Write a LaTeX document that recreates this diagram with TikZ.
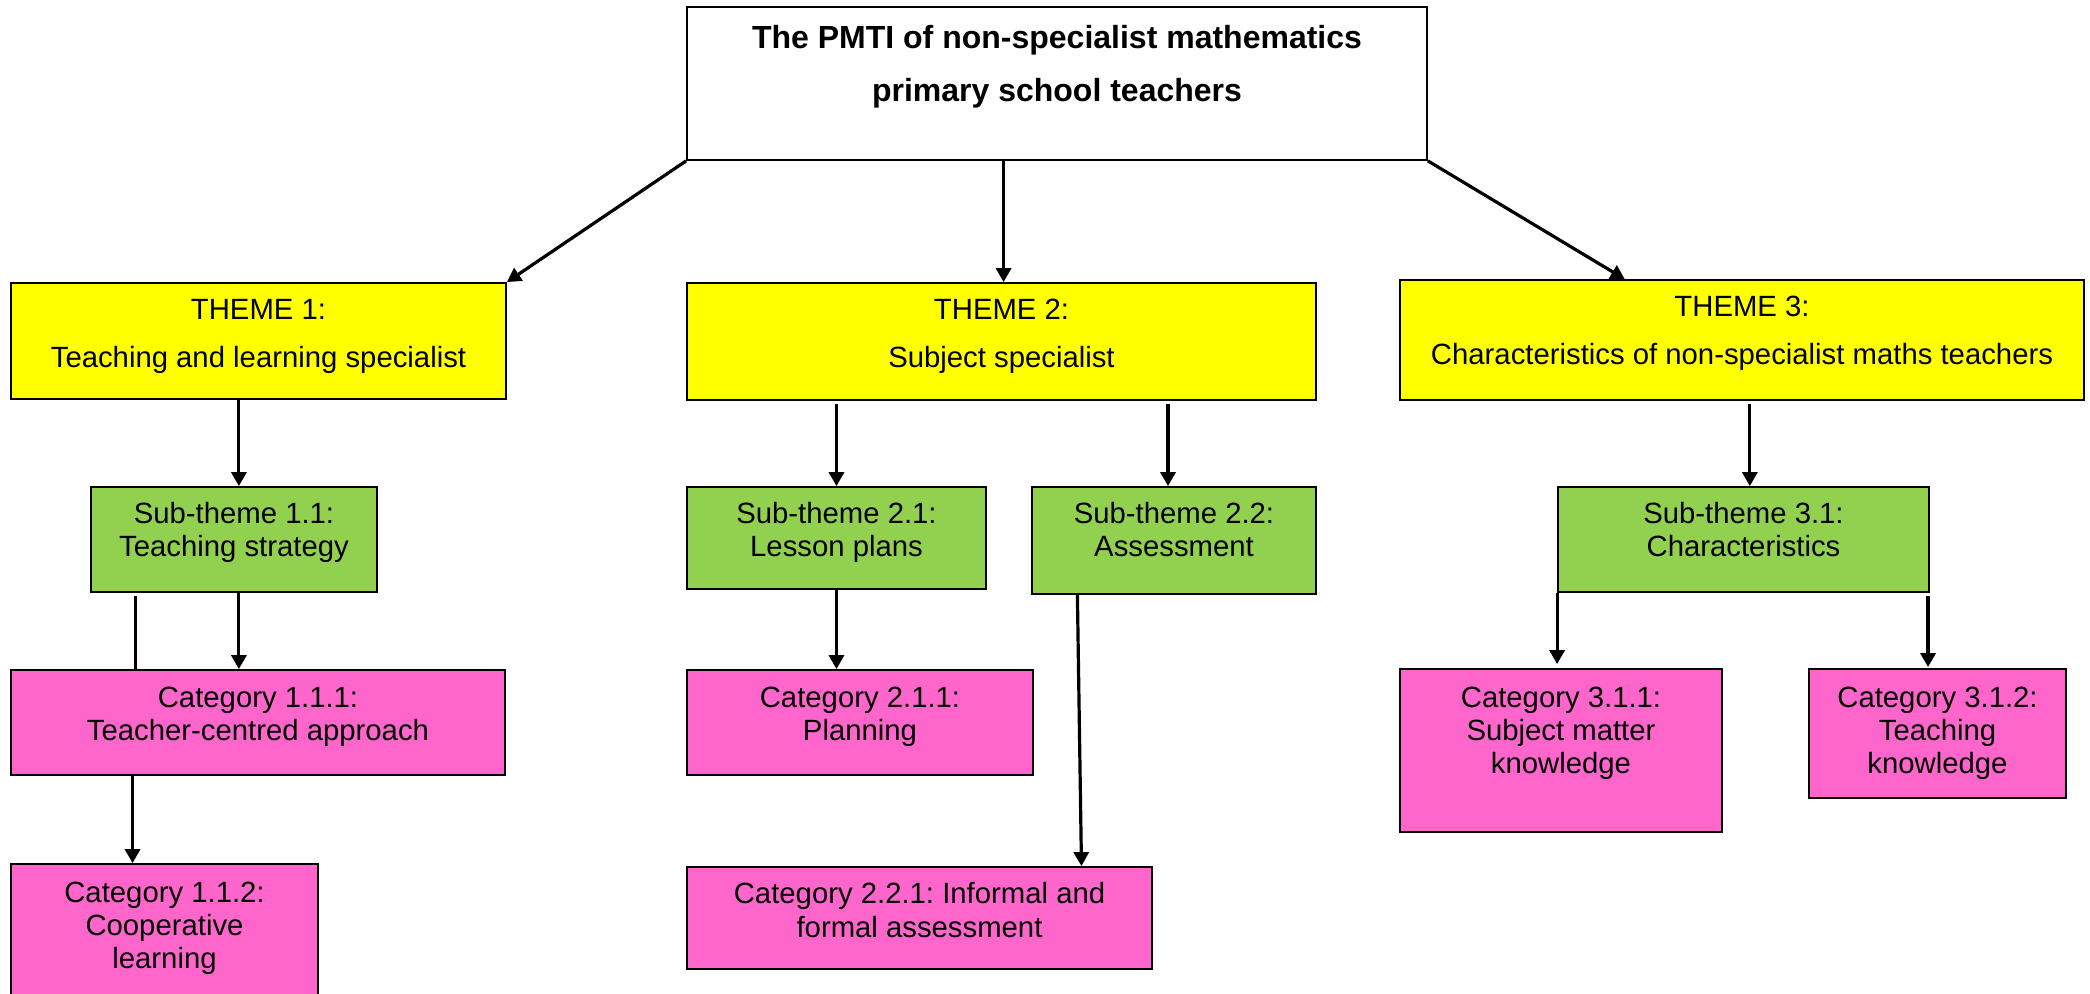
\documentclass[tikz,border=0pt]{standalone}
\usepackage{fontspec}
\setmainfont{Liberation Sans}
\usetikzlibrary{arrows.meta,calc,fit}
\definecolor{themeyellow}{HTML}{FFFF00}
\definecolor{subgreen}{HTML}{92D050}
\definecolor{catpink}{HTML}{FF66CC}
\frenchspacing

% #1 name, #2 box style, #3/#4 top-left corner, #5/#6 bottom-right corner,
% #7 label style, #8 distance of the label centre below the top edge, #9 text
\newcommand\diagbox[9]{%
  \path (#3,#4) coordinate (#1-nw) (#5,#6) coordinate (#1-se);
  \node[#2, fit=(#1-nw)(#1-se)] (#1) {};
  \node[#7] (#1-text) at ([yshift={-(#8)*0.5pt}]#1.north) {#9};%
}

\begin{document}
\begin{tikzpicture}[x=0.5pt,y=-0.5pt,
  frame/.style={draw=black, line width=0.9pt, inner sep=0pt},
  titlebox/.style={frame, fill=white},
  themebox/.style={frame, fill=themeyellow},
  subbox/.style={frame, fill=subgreen},
  catbox/.style={frame, fill=catpink},
  titletext/.style={align=center, inner sep=0pt,
    font=\fontsize{16pt}{26.5pt}\selectfont\bfseries},
  themetext/.style={align=center, inner sep=0pt,
    font=\fontsize{14.65pt}{24pt}\selectfont},
  boxtext/.style={align=center, inner sep=0pt,
    font=\fontsize{14.65pt}{16.6pt}\selectfont},
  arr/.style={line width=1.6pt, -{Triangle[length=7pt,width=7.5pt]}},
  plain/.style={line width=1.6pt},
]
\useasboundingbox (0,0) rectangle (2090,993);

% top
\diagbox{title}{titlebox}{687}{7}{1427}{160}{titletext}{60.5}
  {The PMTI of non-specialist mathematics\\primary school teachers}

% themes
\diagbox{t1}{themebox}{11}{283}{506}{399}{themetext}{54.5}
  {THEME 1:\\Teaching and learning specialist}
\diagbox{t2}{themebox}{687}{283}{1316}{400}{themetext}{54.5}
  {THEME 2:\\Subject specialist}
\diagbox{t3}{themebox}{1400}{280}{2084}{400}{themetext}{54.5}
  {THEME 3:\\Characteristics of non-specialist maths teachers}

% sub-themes
\diagbox{s11}{subbox}{91}{487}{377}{592}{boxtext}{46.5}
  {Sub-theme 1.1:\\Teaching strategy}
\diagbox{s21}{subbox}{687}{487}{986}{589}{boxtext}{46.5}
  {Sub-theme 2.1:\\Lesson plans}
\diagbox{s22}{subbox}{1032}{487}{1316}{594}{boxtext}{43.5}
  {Sub-theme 2.2:\\Assessment}
\diagbox{s31}{subbox}{1558}{487}{1929}{592}{boxtext}{43.5}
  {Sub-theme 3.1:\\Characteristics}

% categories
\diagbox{c111}{catbox}{11}{670}{505}{775}{boxtext}{47.5}
  {Category 1.1.1:\\Teacher-centred approach}
\diagbox{c112}{catbox}{11}{864}{318}{1000}{boxtext}{65}
  {Category 1.1.2:\\Cooperative\\learning}
\diagbox{c211}{catbox}{687}{670}{1033}{775}{boxtext}{47.5}
  {Category 2.1.1:\\Planning}
\diagbox{c221}{catbox}{687}{867}{1152}{969}{boxtext}{44}
  {Category 2.2.1: Informal and\\formal assessment}
\diagbox{c311}{catbox}{1400}{669}{1722}{832}{boxtext}{65}
  {Category 3.1.1:\\Subject matter\\knowledge}
\diagbox{c312}{catbox}{1809}{669}{2066}{798}{boxtext}{65}
  {Category 3.1.2:\\Teaching\\knowledge}

% title to themes
\draw[arr] (title.south west) -- (t1.north east);
\draw[arr] ($(title.south west)!0.428!(title.south east)$) coordinate (a2)
  -- (a2 |- t2.north);
\draw[arr] (title.south east) -- ($(t3.north west)!0.329!(t3.north east)$);

% themes to sub-themes
\draw[arr] ($(s11.north west)!0.517!(s11.north east)$) coordinate (b1)
  (b1 |- t1.south) -- (b1);
\draw[arr, shorten <=1.5pt] (s21.north |- t2.south) -- (s21.north);
\draw[arr, shorten <=1.5pt] ($(s22.north west)!0.479!(s22.north east)$) coordinate (b3)
  (b3 |- t2.south) -- (b3);
\draw[arr, shorten <=1.5pt] ($(s31.north west)!0.517!(s31.north east)$) coordinate (b4)
  (b4 |- t3.south) -- (b4);

% sub-themes to categories
\draw[arr] ($(s11.south west)!0.517!(s11.south east)$) coordinate (c1)
  -- (c1 |- c111.north);
\draw[plain, shorten <=1.5pt] ($(s11.south west)!0.157!(s11.south east)$) coordinate (c2)
  -- (c2 |- c111.north);
\draw[arr] ($(c111.south west)!0.247!(c111.south east)$) coordinate (c3)
  -- (c3 |- c112.north);
\draw[arr] (s21.south) -- (s21.south |- c211.north);
\draw[arr] ($(s22.south west)!0.162!(s22.south east)$)
  -- ($(c221.north west)!0.847!(c221.north east)$);
\draw[arr, shorten >=2pt] (s31.south west) -- (s31.south west |- c311.north);
\draw[arr, shorten <=1.5pt, shorten >=0.5pt] ($(s31.south west)!0.995!(s31.south east)$) coordinate (c4)
  -- (c4 |- c312.north);
\end{tikzpicture}
\end{document}
